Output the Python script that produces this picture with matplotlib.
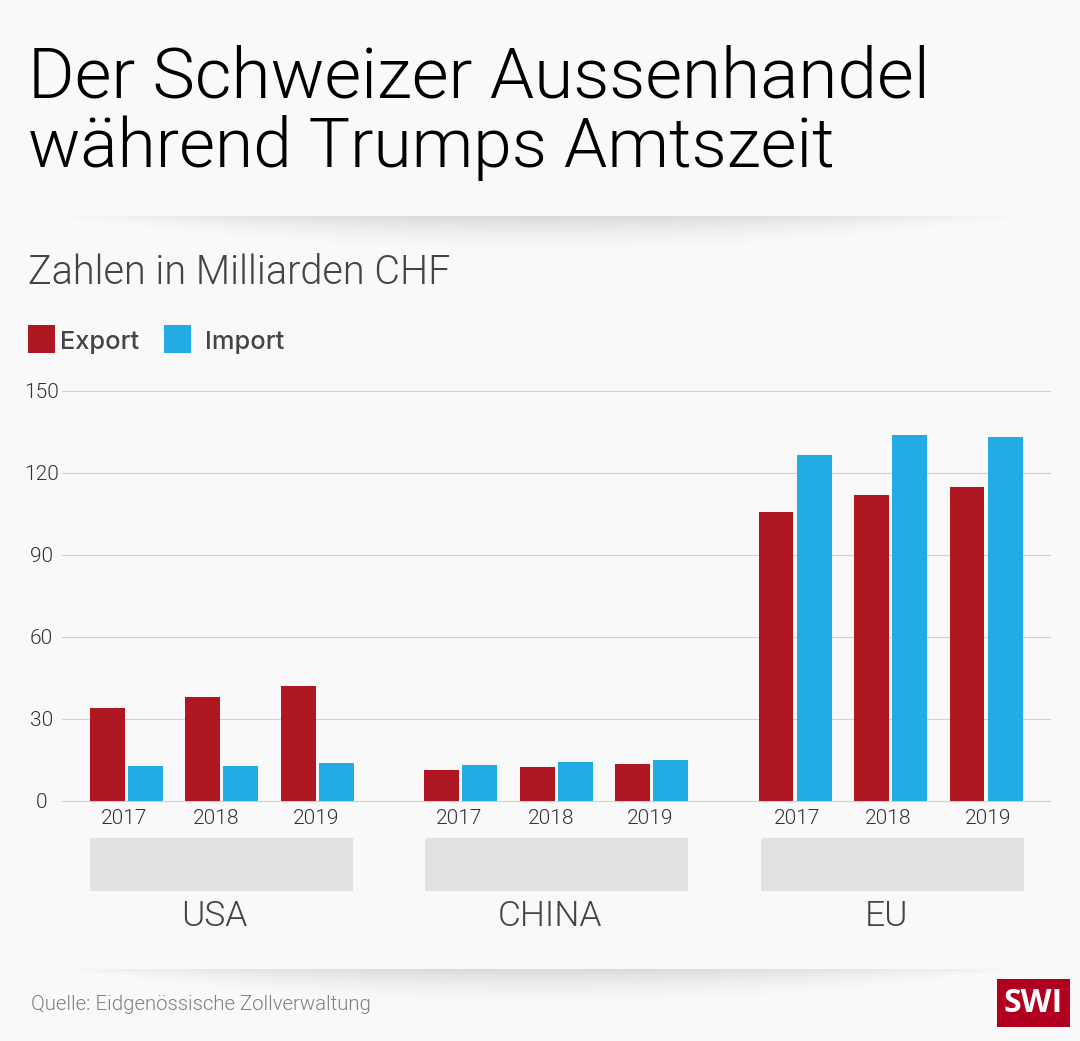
import matplotlib
matplotlib.use("Agg")
import matplotlib.pyplot as plt
from matplotlib.patches import Rectangle
import numpy as np

BG = "#f9f9f9"
RED = "#ae1722"
BLUE = "#22ace3"
W, H = 1080, 1041

regions = ["USA", "CHINA", "EU"]
years = ["2017", "2018", "2019"]
export_vals = [33.9, 38.0, 42.0, 11.2, 12.2, 13.3, 105.7, 112.0, 115.0]
import_vals = [12.6, 12.5, 13.7, 13.0, 14.1, 14.8, 126.7, 134.0, 133.0]
yticks = [0, 30, 60, 90, 120, 150]

# x positions are in reference pixels so axes x units = pixels
export_x = [107.5, 202.5, 298.5, 441.5, 537.5, 632.5, 776, 871.5, 967]
import_x = [145.5, 240.5, 336.5, 479.5, 575.5, 670.5, 814.5, 909.5, 1005.5]
year_x = [124, 216, 316, 459, 551, 650, 797, 888, 988]
band_x = [(90, 353), (424.5, 688), (761, 1024)]
region_x = [214, 550, 887]
bar_w = 34.5

plt.rcParams["font.family"] = ["Roboto", "DejaVu Sans"]

fig = plt.figure(figsize=(W / 100, H / 100), dpi=100, facecolor=BG)

# overlay in pixel coordinates for title, shadows, bands
bg = fig.add_axes([0, 0, 1, 1])
bg.set_xlim(0, W)
bg.set_ylim(H, 0)
bg.axis("off")


def shadow(ax, top, height=42, x0=45, x1=1035):
    # soft lens shaped shadow under the divider
    xs = np.linspace(-1, 1, 500)
    ys = np.linspace(0, 1, 60)
    xx, yy = np.meshgrid(xs, ys)
    edge = np.clip(1 - xx**2, 0, 1)
    a = 0.17 * edge * np.clip(1 - yy / np.maximum(edge, 0.02), 0, 1)**2
    img = np.zeros(a.shape + (4,))
    img[..., :3] = 0.25
    img[..., 3] = a
    ax.imshow(img, extent=(x0, x1, top + height, top), aspect="auto", zorder=1)


shadow(bg, 216)
shadow(bg, 969)
bg.set_xlim(0, W)
bg.set_ylim(H, 0)

bg.text(28, 97, "Der Schweizer Aussenhandel", fontsize=51.3, fontweight=300, color="#000000", va="baseline")
bg.text(28, 167, "während Trumps Amtszeit", fontsize=50, fontweight=300, color="#000000", va="baseline")
bg.text(28, 284, "Zahlen in Milliarden CHF", fontsize=28.5, fontweight=300, color="#444444", va="baseline")

bg.add_patch(Rectangle((28, 325), 27, 28, color=RED, lw=0))
bg.add_patch(Rectangle((164, 325), 27, 28, color=BLUE, lw=0))
bg.text(60.5, 349, "Export", fontsize=18.3, fontweight=500, color="#444444", va="baseline", family="Inter")
bg.text(205, 349, "Import", fontsize=18.3, fontweight=500, color="#444444", va="baseline", family="Inter")

for (x0, x1), name, cx in zip(band_x, regions, region_x):
    bg.add_patch(Rectangle((x0, 838), x1 - x0, 53, color="#e2e2e0", lw=0))
    bg.text(cx, 926, name, fontsize=25.5, fontweight=300, color="#444444", ha="center", va="baseline")

bg.text(31, 1010, "Quelle: Eidgenössische Zollverwaltung", fontsize=14.65, fontweight=300, color="#808080", va="baseline")

bg.add_patch(Rectangle((997, 979), 73, 48, color="#b1001f", lw=0))
bg.text(1033.5, 1003, "SWI", fontsize=23, fontweight="bold", color="white", ha="center", va="center", family="Open Sans")

# chart axes
ax = fig.add_axes([62 / W, 1 - 800.5 / H, (1050 - 62) / W, (800.5 - 391) / H])
ax.patch.set_alpha(0)
ax.set_xlim(62, 1050)
ax.set_ylim(0, 150)
ax.bar(export_x, export_vals, bar_w, color=RED, zorder=3)
ax.bar(import_x, import_vals, bar_w, color=BLUE, zorder=3)
ax.set_yticks(yticks)
ax.set_xticks(year_x)
ax.set_xticklabels(years * 3)
ax.yaxis.grid(True, color="#d2d2d2", lw=0.8, zorder=0, clip_on=False)
ax.set_axisbelow(True)
for s in ax.spines.values():
    s.set_visible(False)
ax.tick_params(axis="x", length=0, pad=6, labelsize=15, labelcolor="#333333")
ax.tick_params(axis="y", length=0, pad=15, labelsize=15, labelcolor="#333333")
for t in ax.get_yticklabels():
    t.set_ha("center")
    t.set_fontweight(300)
for t in ax.get_xticklabels():
    t.set_fontweight(300)

fig.savefig("out.png", dpi=100, facecolor=BG)
